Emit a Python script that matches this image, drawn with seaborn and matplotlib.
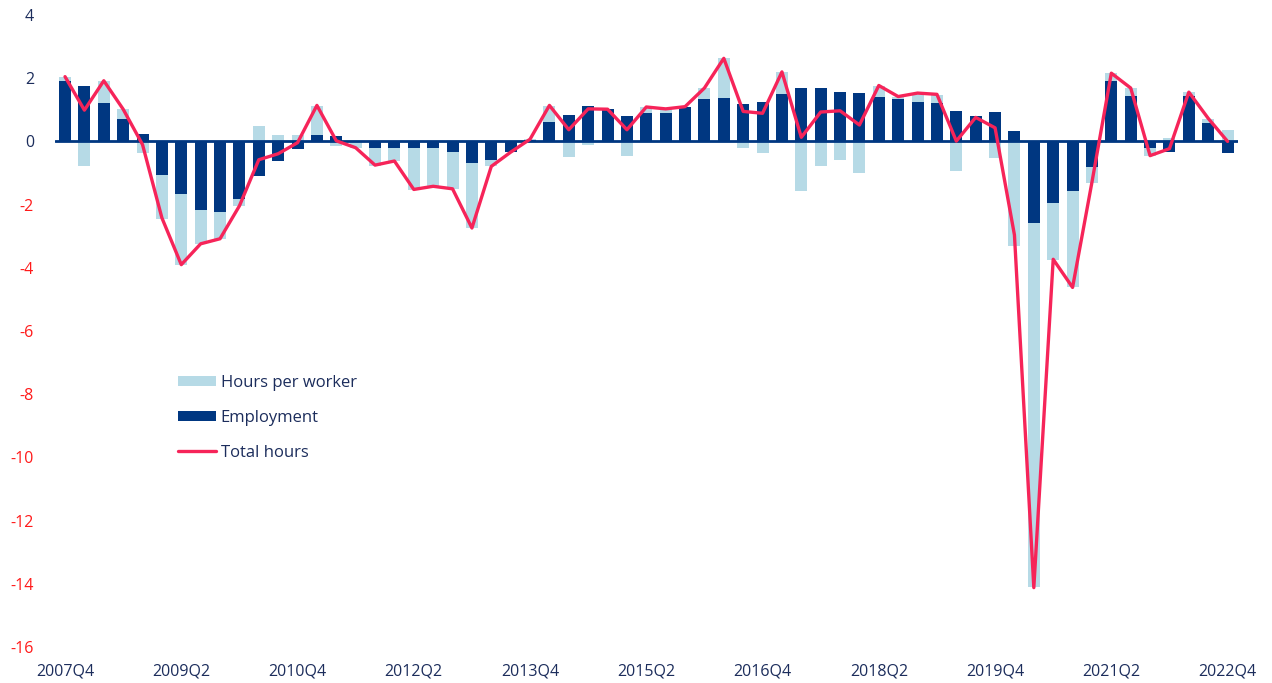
import numpy as np
import pandas as pd
import matplotlib
matplotlib.use("Agg")
import matplotlib.pyplot as plt
import seaborn as sns
from matplotlib.patches import Patch
from matplotlib.lines import Line2D

quarters = [str(p) for p in pd.period_range("2007Q4", "2022Q4", freq="Q")]

employment = [1.92, 1.74, 1.21, 0.71, 0.25, -1.05, -1.66, -2.17, -2.23, -1.82,
              -1.09, -0.61, -0.25, 0.21, 0.17, -0.02, -0.21, -0.21, -0.21, -0.21,
              -0.35, -0.69, -0.60, -0.35, 0.05, 0.62, 0.84, 1.11, 1.02, 0.81,
              0.90, 0.90, 1.08, 1.34, 1.37, 1.17, 1.26, 1.50, 1.68, 1.69,
              1.55, 1.53, 1.42, 1.34, 1.26, 1.21, 0.95, 0.81, 0.94, 0.34,
              -2.58, -1.96, -1.58, -0.80, 1.91, 1.43, -0.20, -0.35, 1.44, 0.58,
              -0.36]

hours_per_worker = [0.13, -0.77, 0.70, 0.31, -0.38, -1.39, -2.24, -1.08, -0.86, -0.21,
                    0.50, 0.20, 0.20, 0.92, -0.16, -0.19, -0.56, -0.40, -1.32, -1.19,
                    -1.14, -2.05, -0.19, 0.01, 0.02, 0.51, -0.49, -0.10, 0.00, -0.45,
                    0.18, 0.12, 0.02, 0.35, 1.26, -0.22, -0.37, 0.70, -1.56, -0.77,
                    -0.59, -1.01, 0.34, 0.08, 0.26, 0.26, -0.95, -0.06, -0.52, -3.32,
                    -11.52, -1.78, -3.04, -0.50, 0.25, 0.26, -0.25, 0.10, 0.11, 0.13,
                    0.36]

total_hours = [2.05, 0.99, 1.92, 1.02, -0.10, -2.42, -3.90, -3.24, -3.08, -2.04,
               -0.58, -0.39, -0.04, 1.14, 0.02, -0.20, -0.75, -0.62, -1.52, -1.42,
               -1.50, -2.74, -0.79, -0.34, 0.07, 1.14, 0.37, 1.03, 1.02, 0.37,
               1.09, 1.03, 1.10, 1.69, 2.63, 0.95, 0.89, 2.20, 0.13, 0.93,
               0.97, 0.52, 1.77, 1.42, 1.53, 1.49, 0.01, 0.76, 0.43, -2.96,
               -14.12, -3.73, -4.62, -1.29, 2.16, 1.69, -0.45, -0.23, 1.56, 0.73,
               0.00]

NAVY = "#003781"
LIGHT = "#b6dae6"
RED = "#f62459"
TEXT = "#1c2d5c"
NEG = "#ff1a1a"

sns.set_theme(style="white")
plt.rcParams["font.family"] = ["Open Sans", "DejaVu Sans"]

df = pd.DataFrame({"quarter": quarters, "emp": employment, "hpw": hours_per_worker,
                   "total": total_hours})
emp = np.array(employment)
hpw = np.array(hours_per_worker)
hpw_bottom = np.where(np.sign(hpw) == np.sign(emp), emp, 0.0)

fig = plt.figure(figsize=(12.72, 6.83), dpi=100)
ax = fig.add_axes([0.0432, 0.0527, 0.9298, 0.9253])

sns.barplot(data=df, x="quarter", y="emp", order=quarters, color=NAVY,
            width=0.62, saturation=1, ax=ax, zorder=2, linewidth=0)
sns.barplot(data=df, x="quarter", y="hpw", order=quarters, color=LIGHT,
            width=0.62, saturation=1, ax=ax, zorder=2, linewidth=0,
            bottom=hpw_bottom)
ax.axhline(0, color=NAVY, lw=2, zorder=3)
sns.lineplot(x=np.arange(len(quarters)), y=df["total"], color=RED, lw=2.4,
             ax=ax, zorder=4, sort=False)

ax.set_xlim(-0.52, 60.52)
ax.set_ylim(-16, 4)
ax.set_yticks(range(-16, 5, 2))
ax.set_yticklabels([str(v) for v in range(-16, 5, 2)])
for lab, v in zip(ax.get_yticklabels(), range(-16, 5, 2)):
    lab.set_color(NEG if v < 0 else TEXT)
ticks = list(range(0, len(quarters), 6))
ax.set_xticks(ticks)
ax.set_xticklabels([quarters[i] for i in ticks], color=TEXT)
ax.tick_params(axis="both", length=0, labelsize=11.5)
ax.tick_params(axis="x", pad=12)
ax.tick_params(axis="y", pad=15)
ax.set_xlabel("")
ax.set_ylabel("")
for s in ax.spines.values():
    s.set_visible(False)

handles = [Patch(facecolor=LIGHT, edgecolor="none"),
           Patch(facecolor=NAVY, edgecolor="none"),
           Line2D([0], [0], color=RED, lw=2.4)]
labels = ["Hours per worker", "Employment", "Total hours"]
leg = fig.legend(handles, labels, loc="upper left", bbox_to_anchor=(0.14, 0.451),
                 frameon=False, fontsize=12, handlelength=2.3, handleheight=0.6,
                 handletextpad=0.25, labelspacing=1.14, borderpad=0, borderaxespad=0)
for t in leg.get_texts():
    t.set_color(TEXT)

fig.savefig("out.png", dpi=100)
